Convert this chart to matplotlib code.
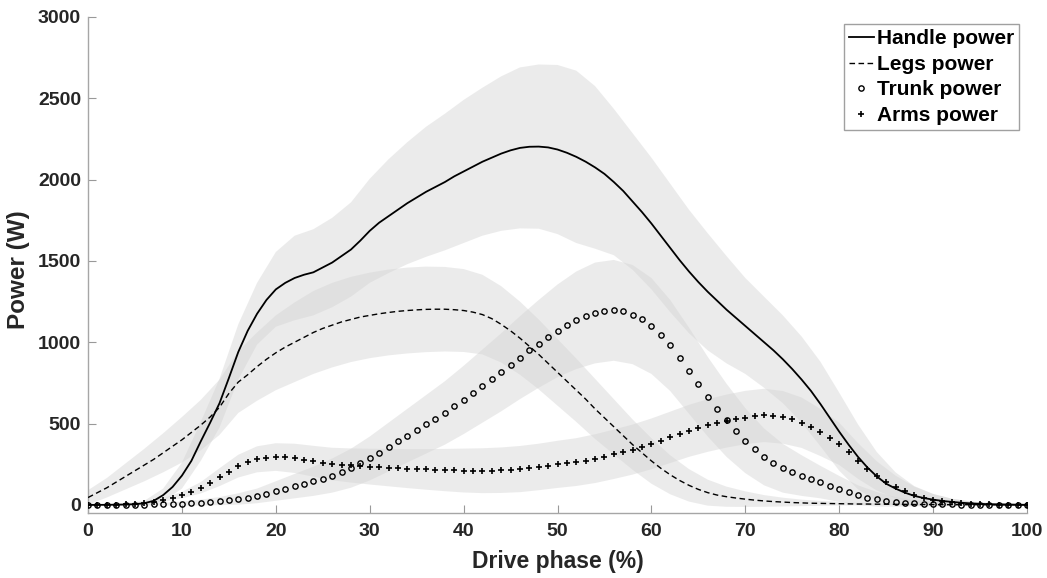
import matplotlib
matplotlib.use("Agg")
import matplotlib.pyplot as plt
import numpy as np

plt.rcParams['font.family'] = ['Liberation Sans', 'DejaVu Sans']
plt.rcParams['font.weight'] = 'bold'

# drive phase, every 1 %
phase = np.arange(0, 101)
# band (mean +/- SD) sampled every 2 %
phase_sd = np.arange(0, 101, 2)

handle = [0, 0, 0, 1, 2, 4, 10, 25, 60, 110,
          180, 270, 390, 505, 625, 780, 940, 1070, 1175, 1260,
          1325, 1365, 1395, 1415, 1430, 1460, 1490, 1530, 1570, 1625,
          1685, 1735, 1775, 1815, 1855, 1890, 1925, 1955, 1985, 2020,
          2050, 2080, 2110, 2135, 2160, 2180, 2195, 2202, 2203, 2198,
          2185, 2165, 2140, 2110, 2075, 2035, 1985, 1930, 1865, 1800,
          1730, 1655, 1580, 1505, 1435, 1370, 1310, 1255, 1200, 1150,
          1100, 1050, 1000, 950, 895, 835, 770, 700, 620, 535,
          450, 370, 295, 230, 175, 130, 100, 75, 55, 42,
          32, 24, 18, 13, 9, 6, 4, 3, 2, 1, 0]

legs = [45, 75, 105, 140, 175, 210, 245, 280, 320, 360,
        400, 445, 490, 540, 600, 685, 755, 800, 850, 895,
        935, 970, 1000, 1030, 1060, 1085, 1105, 1125, 1140, 1155,
        1165, 1175, 1183, 1190, 1195, 1199, 1202, 1203, 1203, 1200,
        1195, 1185, 1170, 1145, 1110, 1070, 1025, 975, 925, 870,
        815, 760, 705, 650, 590, 535, 480, 425, 370, 320,
        270, 225, 185, 150, 120, 95, 75, 60, 50, 42,
        35, 29, 24, 20, 17, 14, 12, 10, 9, 8,
        7, 6, 5, 5, 4, 4, 3, 3, 2, 2,
        2, 1, 1, 1, 1, 1, 0, 0, 0, 0, 0]

trunk = [0, 0, 0, 0, 1, 1, 2, 3, 4, 6,
         8, 11, 14, 18, 23, 29, 36, 44, 55, 68,
         85, 100, 115, 130, 145, 160, 180, 200, 225, 255,
         285, 320, 355, 390, 425, 460, 495, 530, 565, 605,
         645, 690, 730, 775, 815, 860, 905, 950, 990, 1030,
         1070, 1105, 1135, 1160, 1180, 1192, 1196, 1190, 1170, 1140,
         1100, 1045, 980, 905, 825, 745, 665, 590, 520, 455,
         395, 345, 295, 255, 225, 200, 180, 160, 140, 118,
         98, 78, 60, 45, 34, 25, 18, 13, 10, 7,
         5, 4, 3, 2, 2, 1, 1, 1, 0, 0, 0]

arms = [0, 0, 1, 2, 4, 7, 12, 20, 30, 45,
        60, 80, 105, 135, 170, 205, 238, 262, 280, 291,
        294, 292, 286, 278, 268, 258, 251, 246, 242, 238,
        235, 232, 229, 226, 223, 220, 218, 216, 214, 212,
        211, 210, 210, 211, 213, 216, 220, 226, 233, 241,
        249, 256, 263, 272, 284, 297, 311, 325, 340, 357,
        375, 395, 415, 435, 455, 472, 488, 502, 515, 527,
        537, 545, 550, 548, 538, 525, 505, 480, 445, 410,
        375, 325, 270, 220, 178, 140, 110, 85, 62, 45,
        32, 22, 15, 10, 6, 4, 3, 2, 1, 1, 0]

handle_sd = [5, 5, 8, 15, 40, 80, 120, 150, 170, 190, 230, 260, 265, 275, 290, 320, 350,
             375, 400, 420, 440, 455, 475, 495, 505, 520, 530, 500, 450, 420, 405, 395,
             380, 360, 330, 295, 280, 270, 265, 260, 240, 200, 150, 100, 60, 35, 20, 12, 7, 4, 2]
legs_sd = [45, 60, 80, 100, 120, 140, 155, 170, 190, 210, 230, 245, 255, 260, 262, 263, 264,
           264, 263, 260, 255, 245, 235, 225, 215, 205, 195, 185, 170, 155, 140, 120, 100,
           80, 62, 48, 36, 27, 20, 15, 11, 8, 6, 5, 4, 3, 2, 2, 1, 1, 1]
trunk_sd = [2, 2, 3, 5, 8, 12, 18, 25, 35, 45, 60, 75, 90, 105, 120, 135, 150, 165, 180,
            195, 210, 225, 240, 255, 270, 285, 300, 310, 310, 305, 295, 280, 265, 245, 225,
            200, 175, 150, 125, 100, 80, 60, 45, 30, 20, 14, 10, 6, 4, 2, 2]
arms_sd = [2, 2, 3, 6, 12, 20, 35, 55, 70, 80, 85, 90, 95, 100, 105, 110, 115, 120, 125,
           130, 135, 138, 140, 142, 143, 145, 147, 150, 152, 154, 156, 158, 160, 162, 163,
           164, 164, 162, 155, 145, 130, 110, 90, 70, 50, 35, 22, 14, 8, 4, 2]

fig = plt.figure(figsize=(10.47, 5.78), dpi=100)
ax = fig.add_axes([0.0841, 0.1125, 0.8968, 0.8581])

# shaded SD bands
for mean, sd in [(handle, handle_sd), (legs, legs_sd), (trunk, trunk_sd), (arms, arms_sd)]:
    m = np.array(mean)[::2]
    s = np.array(sd)
    ax.fill_between(phase_sd, m - s, m + s, facecolor='#d4d4d4', alpha=0.45,
                    edgecolor='none', zorder=1)

ax.plot(phase, handle, '-', color='black', lw=1.3, label='Handle power', zorder=3)
ax.plot(phase, legs, '--', color='black', lw=1.0, dashes=(4, 2.5), label='Legs power', zorder=3)
ax.plot(phase, trunk, 'o', color='black', ms=3.8, mfc='none', mew=1.0, label='Trunk power', zorder=4)
ax.plot(phase, arms, '+', color='black', ms=4.5, mew=1.2, label='Arms power', zorder=4)

ax.set_xlim(0, 100)
ax.set_ylim(-50, 3000)
ax.set_xticks(np.arange(0, 101, 10))
ax.set_yticks(np.arange(0, 3001, 500))
ax.tick_params(direction='in', length=6, width=0.8, color='#999999', labelsize=14,
               labelcolor='#262626')
ax.tick_params(axis='x', pad=7)
ax.tick_params(axis='y', pad=5)
for side in ['top', 'right']:
    ax.spines[side].set_visible(False)
for side in ['left', 'bottom']:
    ax.spines[side].set_color('#a6a6a6')
    ax.spines[side].set_linewidth(1.0)

ax.set_xlabel('Drive phase (%)', fontsize=16.5, fontweight='bold', color='#262626')
ax.set_ylabel('Power (W)', fontsize=17.5, fontweight='bold', color='#262626')
ax.xaxis.set_label_coords(0.5, -0.074)
ax.yaxis.set_label_coords(-0.062, 0.49)

leg = ax.legend(loc='upper right', bbox_to_anchor=(0.992, 0.986), borderaxespad=0,
                fontsize=15, handlelength=1.2, handletextpad=0.15, labelspacing=0.32,
                borderpad=0.25, fancybox=False, framealpha=1, edgecolor='#a0a0a0',
                markerscale=1.0)
leg.get_frame().set_linewidth(1.0)
for t in leg.get_texts():
    t.set_fontweight('bold')

fig.savefig('out.png', dpi=100)
